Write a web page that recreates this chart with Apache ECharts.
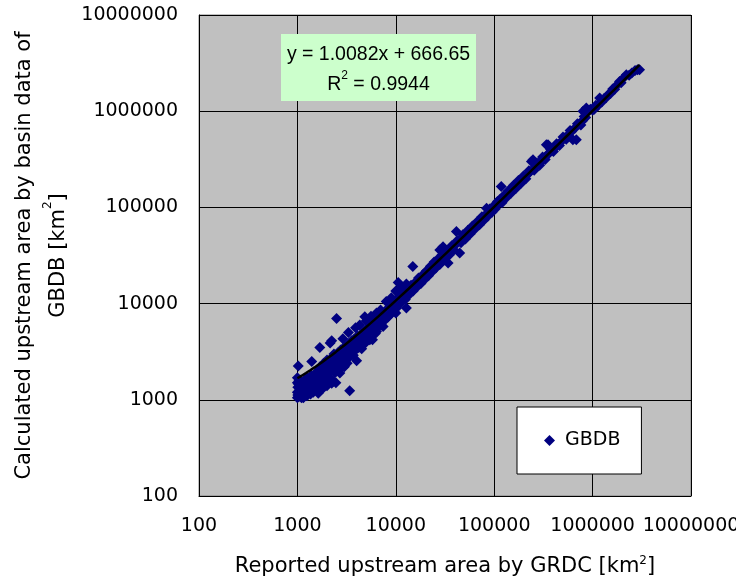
<!DOCTYPE html>
<html><head><meta charset="utf-8">
<script src="https://cdn.jsdelivr.net/npm/echarts@6/dist/echarts.min.js"></script>
<style>html,body{margin:0;padding:0;background:#fff}#c{width:736px;height:578px}</style>
</head><body><div id="c"></div>
<script>
// [reported GRDC area, calculated GBDB area] in km2
const smallBasins = [
[1000,1050],[1000,1200],[1000,1500],[1000,1700],[1010,1120],[1020,1200],[1020,2250],[1030,1080],[1040,1600],[1050,1300],
[1060,1150],[1080,1400],[1100,1050],[1100,1250],[1120,1500],[1130,1180],[1150,1350],[1170,1100],[1180,1600],[1200,1250],
[1200,1450],[1220,1150],[1250,1700],[1260,1350],[1280,1200],[1300,1500],[1320,1280],[1350,1600],[1360,1150],[1380,1400],
[1400,1300],[1400,1750],[1400,2500],[1420,1500],[1450,1350],[1460,1650],[1480,1250],[1500,1450],[1520,1600],[1550,1850],
[1580,1400],[1600,1700],[1620,2000],[1630,1170],[1650,1550],[1680,1800],[1690,3500],[1700,2200],[1720,1650],[1750,1950],
[1780,1550],[1800,1300],[1800,2100],[1820,1800],[1850,2400],[1880,1700],[1900,2000],[1950,2250],[1980,1850],[2000,1400],
[2000,2600],[2020,2100],[2050,1950],[2100,2400],[2150,3900],[2150,2200],[2200,2700],[2230,1490],[2230,4100],[2250,2050],
[2300,1550],[2300,2500],[2350,3000],[2400,2300],[2450,2700],[2460,1500],[2500,7000],[2500,2600],[2550,2300],[2600,3100],
[2650,2800],[2700,1900],[2700,2500],[2750,3300],[2800,2700],[2850,3000],[2900,2500],[2900,4300],[2950,3400],
[1010,1350],[1030,1450],[1050,1100],[1070,1250],[1090,1550],[1110,1150],[1140,1300],[1160,1450],[1190,1350],[1210,1600],
[1230,1300],[1240,1500],[1270,1450],[1290,1650],[1310,1400],[1330,1700],[1340,1250],[1370,1550],[1390,1800],[1410,1450],
[1440,1600],[1470,1500],[1490,1750],[1510,1350],[1530,1750],[1560,1550],[1590,1900],[1610,1500],[1640,1750],[1660,2000],
[1700,1600],[1730,1850],[1760,2100],[1790,1750],[1830,2000],[1860,1900],[1900,2200],[1930,1800],[1960,2100],[2000,1900],
[2040,2300],[2080,2050],[2120,2500],[2180,2300],[2220,2500],[2280,2300],[2330,2700],[2380,2500],[2430,2900],[2480,2400],
[2530,2800],[2580,2600],[2630,3000],[2680,2700],[2730,3100],[2780,2900],[2830,3200],[2880,2800],[2930,3100],[2980,3200],
[1150,1050],[1250,1100],[1350,1200],[1450,1200],[1550,1300],[1700,1400],[1900,1550],[2100,1700],[2400,1900],[2600,2100],[2800,2200]
];
const mediumBasins = [
[3000,2200],[3000,2900],[3050,3600],[3100,2700],[3150,3200],[3200,2400],[3300,3800],[3300,5000],[3350,3000],[3400,1240],
[3400,2800],[3500,3500],[3550,4100],[3600,3100],[3700,2900],[3750,3700],[3800,4300],[3900,3300],[3900,5600],[4000,2550],
[4000,3900],[4100,4600],[4200,3500],[4300,4100],[4300,6000],[4400,3700],[4500,3400],[4500,4800],[4600,4000],[4700,4400],
[4840,7300],[4800,5200],[4900,3900],[5000,4700],[5000,6600],[5200,5500],[5300,4300],[5400,5000],[5440,4200],[5600,5900],
[5600,7400],[5800,4200],[5900,5400],[6100,6300],[6200,4900],[6370,5130],[6370,8000],[6500,6800],[6700,5800],[6900,7200],
[7000,8600],[7100,6000],[7430,5780],[7500,7600],[7800,6800],[8000,8600],[8000,10500],[8300,7200],[8600,8900],[8900,7800],
[9000,11500],[9200,9600],[9500,8300],[9800,10200],[10000,13500],[10000,8000],[10200,9000],[10500,11500],[10580,16600],[10800,9800],
[11200,12000],[11500,14500],[11600,10500],[12000,13200],[12500,11000],[12800,9000],[12800,16000],[13200,14000],[13800,12500],[14300,15500],
[14900,24300],[15000,13500],[15600,16500],[16300,14800],[17000,18500],[18000,16200],[18800,20000],[19600,17800],[20500,22000],[21500,19500],
[22500,24500],[23500,21500],[24500,27000],[25500,23500],[26800,29000],[28000,25500],[28000,36000],[29500,32000],[30200,39000],[31000,28500],
[33000,35500],[34000,26500],[35000,32000],[37000,40000],[39000,36000],[41300,56000],[42000,45000],[44600,33500],[46000,43000],[48000,52000],
[51000,47000],[54000,58000],[57000,53000],[60000,64000],[63000,59000],[67000,71000],[71000,66000],[75000,80000],[79000,74000],[83600,98000],
[86000,81000],[90000,96000],[95000,89000],[99000,104000],
[3050,3300],[3250,3500],[3450,3800],[3650,3900],[3850,4200],[4050,4400],[4250,4500],[4450,4700],[4650,5000],[4950,5300],
[5100,5000],[5350,5700],[5500,5500],[5750,6100],[6000,6000],[6250,6600],[6600,6900],[6800,6500],[7200,7600],[7400,7100],
[7700,8100],[8100,8200],[8400,8800],[8800,9200],[9100,8900],[9400,9900],[9700,9500],
[10400,10700],[11000,11300],[11800,12400],[12200,12000],[13000,13300],[13500,14200],[14000,14100],[14600,14900],[15300,15800],[16000,16300],
[16600,17200],[17300,17600],[18300,18900],[19200,19800],[20000,20400],[21000,21700],[22000,22300],[23000,23800],[24000,24400],[25000,25800],
[26200,26500],[27400,28200],[28700,29000],[30000,30800],[31800,32300],[32500,33500],[34000,34800],[36000,36900],[38000,38600],[40000,41200],
[43000,43800],[45000,46500],[47000,47800],[50000,51500],[52500,53500],[55500,57000],[58500,59500],[62000,63500],[65000,66500],[69000,70500],
[73000,74500],[77000,78500],[81000,83000],[88000,89500],[93000,95000],[97000,99000]
];
const largeBasins = [
[103000,97000],[108000,115000],[113000,120000],[118000,165000],[120000,112000],[126000,134000],[132000,125000],[140000,150000],[148000,140000],[157000,170000],
[166000,157000],[176000,190000],[187000,177000],[198000,212000],[210000,198000],[225000,240000],[239000,300000],[248000,312000],[255000,243000],[272000,290000],
[290000,275000],[310000,335000],[330000,315000],[339000,448000],[352000,448000],[375000,400000],[400000,380000],[430000,460000],[460000,440000],[500000,540000],
[540000,510000],[590000,630000],[630000,505000],[683000,504000],[700000,740000],[760000,720000],[800000,1000000],[820000,880000],[863000,1080000],[900000,1000000],
[950000,1050000],[1000000,1020000],[1080000,1150000],[1180000,1370000],[1300000,1350000],[1450000,1500000],[1600000,1700000],[1750000,1850000],[1880000,2040000],[2050000,2200000],
[2200000,2390000],[2500000,2500000],[2860000,2690000],[3000000,2700000],
[105000,106000],[111000,110000],[116000,118000],[123000,124000],[129000,131000],[136000,137000],[144000,146000],[152000,155000],[161000,163000],[171000,173000],
[181000,184000],[192000,195000],[204000,206000],[217000,220000],[232000,235000],[263000,266000],[281000,284000],[300000,304000],[320000,323000],[345000,350000],
[362000,368000],[388000,392000],[415000,420000],[445000,450000],[480000,485000],[520000,525000],[565000,570000],[610000,615000],[660000,665000],[730000,735000],
[790000,795000],[850000,860000],[1040000,1050000],[1130000,1140000],[1240000,1250000],[1370000,1380000],[1520000,1530000],[1680000,1690000],[1950000,1970000],[2350000,2370000],
[2700000,2650000]
];
const tickLabels = ['100','1000','10000','100000','1000000','10000000'];
const trendSlope = 1.0082;
const trendIntercept = 666.65;
const rSquared = '0.9944';

const gbdbPoints = smallBasins.concat(mediumBasins, largeBasins);
const xs = gbdbPoints.map(p => p[0]);
const xMin = Math.min.apply(null, xs), xMax = Math.max.apply(null, xs);
const trendLine = [];
for (let i = 0; i <= 80; i++) {
  const x = Math.pow(10, Math.log10(xMin) + (Math.log10(xMax) - Math.log10(xMin)) * i / 80);
  trendLine.push([x, trendSlope * x + trendIntercept]);
}

const FONT = 'DejaVu Sans';
const fmt = v => {
  const k = Math.round(Math.log10(v)) - 2;
  return tickLabels[k] !== undefined ? tickLabels[k] : String(v);
};
const supRich = {
  sup: { fontSize: 12, lineHeight: 14, verticalAlign: 'top', fontFamily: FONT, color: '#000' }
};

const chart = echarts.init(document.getElementById('c'), null, { renderer: 'canvas' });
chart.setOption({
  animation: false,
  backgroundColor: '#ffffff',
  grid: {
    left: 199, top: 15, width: 492, height: 481,
    show: true, backgroundColor: '#c0c0c0', borderColor: '#808080', borderWidth: 1,
    containLabel: false, outerBoundsMode: 'none'
  },
  xAxis: {
    type: 'log', logBase: 10, min: 100, max: 10000000,
    name: 'Reported upstream area by GRDC [km{sup|2}]',
    nameLocation: 'middle', nameGap: 59, nameMoveOverlap: false,
    nameTextStyle: { fontFamily: FONT, fontSize: 21, color: '#000', lineHeight: 24, rich: supRich },
    axisLine: { show: true, onZero: false, lineStyle: { color: '#000', width: 1 } },
    axisTick: { show: true, inside: true, length: 5, lineStyle: { color: '#000' } },
    minorTick: { show: false },
    axisLabel: { show: true, margin: 21, fontFamily: FONT, fontSize: 19, color: '#000', formatter: fmt, showMinLabel: true, showMaxLabel: true, hideOverlap: false },
    splitLine: { show: true, lineStyle: { color: '#000', width: 1 } }
  },
  yAxis: {
    type: 'log', logBase: 10, min: 100, max: 10000000,
    name: 'Calculated upstream area by basin data of\nGBDB [km{sup|2}]',
    nameLocation: 'middle', nameGap: 123, nameMoveOverlap: false,
    nameTextStyle: { fontFamily: FONT, fontSize: 21, color: '#000', lineHeight: 34, rich: supRich },
    axisLine: { show: true, onZero: false, lineStyle: { color: '#000', width: 1 } },
    axisTick: { show: true, inside: true, length: 5, lineStyle: { color: '#000' } },
    minorTick: { show: false },
    axisLabel: { show: true, margin: 21, fontFamily: FONT, fontSize: 19, color: '#000', formatter: fmt, showMinLabel: true, showMaxLabel: true, hideOverlap: false },
    splitLine: { show: true, lineStyle: { color: '#000', width: 1 } }
  },
  legend: {
    show: true, data: ['GBDB'], left: 517, top: 407,
    orient: 'vertical',
    backgroundColor: '#ffffff', borderColor: '#000', borderWidth: 1, borderRadius: 0,
    padding: [24, 21, 24, 27],
    icon: 'diamond', itemWidth: 11, itemHeight: 11,
    itemStyle: { color: '#000080' },
    textStyle: { fontFamily: FONT, fontSize: 19, color: '#000', padding: [0, 0, 0, 5] }
  },
  graphic: [
    { type: 'rect', left: 281, top: 34, z: 100, shape: { width: 195, height: 67 }, style: { fill: '#ccffcc', stroke: null } },
    { type: 'text', x: 378.5, y: 40, z: 101,
      style: { text: 'y = 1.0082x + 666.65\nR{sup|2} = ' + rSquared, align: 'center', verticalAlign: 'top',
        fontFamily: 'Liberation Sans', fontSize: 19.5, lineHeight: 30, fill: '#000',
        rich: { sup: { fontSize: 12, lineHeight: 14, verticalAlign: 'top', fontFamily: 'Liberation Sans', fill: '#000' } } } }
  ],
  series: [
    {
      name: 'GBDB', type: 'scatter', data: gbdbPoints,
      symbol: 'diamond', symbolSize: 11,
      itemStyle: { color: '#000080', opacity: 1 },
      z: 3
    },
    {
      name: 'trend', type: 'line', data: trendLine, showSymbol: false, symbol: 'none',
      lineStyle: { color: '#000', width: 2.5 }, silent: true, z: 4
    }
  ]
});
</script>
</body></html>
